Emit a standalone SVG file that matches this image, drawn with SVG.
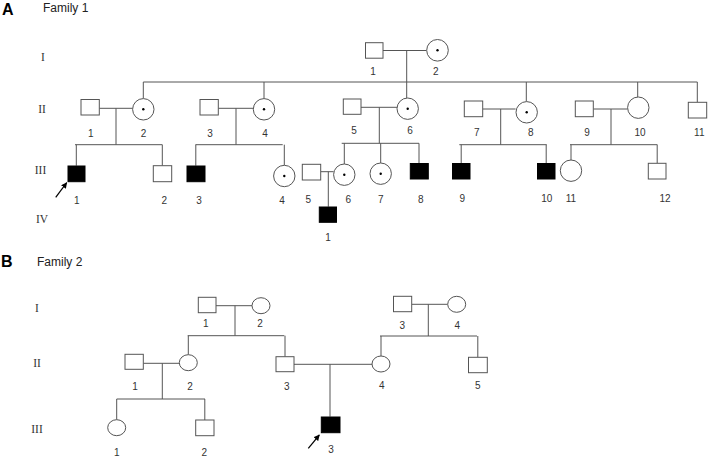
<svg xmlns="http://www.w3.org/2000/svg" width="708" height="458" viewBox="0 0 708 458">
<defs>
<style>
.ln{stroke:#555;stroke-width:1;fill:none}
.m{fill:#fff;stroke:#555;stroke-width:1}
.a{fill:#000;stroke:#000;stroke-width:1}
.f{fill:#fff;stroke:#555;stroke-width:1}
.d{fill:#000}
.lb{font-family:"Liberation Sans",Arial,sans-serif;font-size:10px;fill:#333;text-anchor:middle}
.gen{font-family:"Liberation Serif","Times New Roman",serif;font-size:11.5px;fill:#333;text-anchor:middle}
.ttl{font-family:"Liberation Sans",Arial,sans-serif;font-size:12px;fill:#222}
.big{font-family:"Liberation Sans",Arial,sans-serif;font-size:16px;font-weight:bold;fill:#000}
.arr{stroke:#000;stroke-width:1.2;fill:none}
</style>
<marker id="ah" viewBox="0 0 10 10" refX="9" refY="5" markerWidth="5" markerHeight="5" orient="auto">
<path d="M0,0 L10,5 L0,10 z" fill="#000"/>
</marker>
</defs>
<rect width="708" height="458" fill="#fff"/>

<!-- Titles -->
<text class="big" x="2" y="15">A</text>
<text class="ttl" x="43" y="12">Family 1</text>
<text class="big" x="1" y="267">B</text>
<text class="ttl" x="37" y="266">Family 2</text>

<!-- Generation labels -->
<g id="gen-labels">
<text class="gen" x="43" y="61">I</text>
<text class="gen" x="42" y="113">II</text>
<text class="gen" x="40.5" y="174">III</text>
<text class="gen" x="42" y="223">IV</text>
<text class="gen" x="37" y="312">I</text>
<text class="gen" x="37" y="367">II</text>
<text class="gen" x="37" y="433">III</text>
</g>

<!-- Connectors -->
<g id="connectors">
<!-- Family 1 gen I -->
<path class="ln" d="M383,50.5 H426.5 M406.7,50.5 V82 M143.3,82 H697.3"/>
<path class="ln" d="M143.3,82 V98.5 M264,82 V98.5 M406.7,82 V98 M526.3,82 V101.5 M637.7,82 V97 M697.3,82 V102.3"/>
<!-- II-1 x II-2 -->
<path class="ln" d="M99.3,108.3 H132.6 M116,108.3 V144.7 M75,144.7 H162.3 M76.3,144.7 V165.7 M162.3,144.7 V165.7"/>
<!-- II-3 x II-4 -->
<path class="ln" d="M218.3,108.3 H253.3 M236,108.3 V144.7 M195.5,144.7 H282.7 M195.8,144.7 V165.7 M284.3,144.7 V165.3"/>
<!-- II-5 x II-6 -->
<path class="ln" d="M361,107.3 H397 M379.3,107.3 V143.3 M341.7,143.3 H419 M344.3,143.3 V164 M380.7,143.3 V163 M419,143.3 V163.3"/>
<!-- III-5 x III-6 -->
<path class="ln" d="M320.7,171.7 H333.6 M328.3,171.7 V206.7"/>
<!-- II-7 x II-8 -->
<path class="ln" d="M482.7,109 H515.6 M500.7,109 V144.7 M459.3,144.7 H546.7 M461.2,144.7 V163.3 M546.2,144.7 V163.3"/>
<!-- II-9 x II-10 -->
<path class="ln" d="M593.3,109 H627.6 M611,109 V144.7 M570,144.7 H657.3 M571,144.7 V160 M657.2,144.7 V163.3"/>

<!-- Family 2 -->
<path class="ln" d="M216,305.7 H252 M235,305.7 V335.7 M187.7,335.7 H284.3 M188.3,335.7 V354.7 M285,335.7 V356.7"/>
<path class="ln" d="M411.7,304.3 H447.7 M428.3,304.3 V336 M380,336 H477 M381,336 V356 M477.8,336 V357.3"/>
<path class="ln" d="M143.3,363.3 H179.3 M162.3,363.3 V399 M116.7,399 H205 M116.7,399 V419.7 M204.8,399 V420"/>
<path class="ln" d="M294,364.3 H372 M330,364.3 V416.7"/>

<!-- Proband arrows -->
<line class="arr" x1="55.7" y1="197.3" x2="66.7" y2="182.7" marker-end="url(#ah)"/>
<line class="arr" x1="308.3" y1="448.3" x2="319.3" y2="435" marker-end="url(#ah)"/>
</g>

<!-- Family 1 nodes -->
<g id="f1-I-1"><rect class="m" x="365.5" y="42.7" width="17.5" height="15.5"/><text class="lb" x="373" y="75">1</text></g>
<g id="f1-I-2"><circle class="f" cx="437.5" cy="50.3" r="10.8"/><circle class="d" cx="437.5" cy="50.3" r="1.2"/><text class="lb" x="435.7" y="75">2</text></g>

<g id="f1-II-1"><rect class="m" x="81" y="99.5" width="18.3" height="15.5"/><text class="lb" x="90.7" y="137">1</text></g>
<g id="f1-II-2"><circle class="f" cx="143.3" cy="109.3" r="10.7"/><circle class="d" cx="143.3" cy="109.3" r="1.2"/><text class="lb" x="143.6" y="137">2</text></g>
<g id="f1-II-3"><rect class="m" x="200" y="99.5" width="18.3" height="15.5"/><text class="lb" x="210" y="137">3</text></g>
<g id="f1-II-4"><circle class="f" cx="264" cy="109.3" r="10.7"/><circle class="d" cx="264" cy="109.3" r="1.2"/><text class="lb" x="265" y="137">4</text></g>
<g id="f1-II-5"><rect class="m" x="343.3" y="99" width="17.7" height="15.3"/><text class="lb" x="354" y="134">5</text></g>
<g id="f1-II-6"><circle class="f" cx="407.7" cy="108.7" r="10.7"/><circle class="d" cx="407.7" cy="108.7" r="1.2"/><text class="lb" x="410" y="134">6</text></g>
<g id="f1-II-7"><rect class="m" x="464.3" y="101" width="18.4" height="15.7"/><text class="lb" x="476.7" y="135.5">7</text></g>
<g id="f1-II-8"><circle class="f" cx="526.7" cy="112.3" r="10.7"/><circle class="d" cx="526.7" cy="112.3" r="1.2"/><text class="lb" x="530.7" y="135.5">8</text></g>
<g id="f1-II-9"><rect class="m" x="575.3" y="101" width="18" height="15.7"/><text class="lb" x="587" y="135.5">9</text></g>
<g id="f1-II-10"><circle class="f" cx="638.3" cy="107.7" r="10.7"/><text class="lb" x="640" y="136">10</text></g>
<g id="f1-II-11"><rect class="m" x="688.3" y="102.3" width="18.4" height="15.7"/><text class="lb" x="699.3" y="136">11</text></g>

<g id="f1-III-1"><rect class="a" x="68" y="166" width="17" height="15.7"/><text class="lb" x="76.7" y="204">1</text></g>
<g id="f1-III-2"><rect class="m" x="153.3" y="165.7" width="18.4" height="16"/><text class="lb" x="164.3" y="204">2</text></g>
<g id="f1-III-3"><rect class="a" x="187" y="166" width="18" height="15.7"/><text class="lb" x="199" y="204">3</text></g>
<g id="f1-III-4"><circle class="f" cx="284.3" cy="176" r="10.7"/><circle class="d" cx="284.3" cy="176" r="1.2"/><text class="lb" x="282" y="204">4</text></g>
<g id="f1-III-5"><rect class="m" x="302.3" y="164.3" width="18.4" height="15.7"/><text class="lb" x="308.3" y="203">5</text></g>
<g id="f1-III-6"><circle class="f" cx="344.3" cy="174.7" r="10.7"/><circle class="d" cx="344.3" cy="174.7" r="1.2"/><text class="lb" x="348.3" y="203">6</text></g>
<g id="f1-III-7"><circle class="f" cx="380.7" cy="173.7" r="10.7"/><circle class="d" cx="380.7" cy="173.7" r="1.2"/><text class="lb" x="380.7" y="203">7</text></g>
<g id="f1-III-8"><rect class="a" x="410.3" y="163.5" width="18" height="15.5"/><text class="lb" x="420.7" y="203">8</text></g>
<g id="f1-III-9"><rect class="a" x="452.5" y="163.5" width="17.5" height="15.5"/><text class="lb" x="462.3" y="202">9</text></g>
<g id="f1-III-10"><rect class="a" x="537.5" y="163.5" width="17.5" height="15.5"/><text class="lb" x="546.7" y="201.5">10</text></g>
<g id="f1-III-11"><circle class="f" cx="571" cy="170.7" r="10.7"/><text class="lb" x="571" y="202">11</text></g>
<g id="f1-III-12"><rect class="m" x="648.3" y="163.3" width="17.7" height="15.7"/><text class="lb" x="665" y="202">12</text></g>

<g id="f1-IV-1"><rect class="a" x="319.3" y="207" width="17.2" height="15.3"/><text class="lb" x="328" y="241">1</text></g>

<!-- Family 2 nodes -->
<g id="f2-I-1"><rect class="m" x="198.3" y="297.3" width="17.7" height="15.4"/><text class="lb" x="205.7" y="326.5">1</text></g>
<g id="f2-I-2"><ellipse class="f" cx="261" cy="305.7" rx="9" ry="8"/><text class="lb" x="260" y="326.5">2</text></g>
<g id="f2-I-3"><rect class="m" x="393.5" y="296.3" width="18.2" height="15.4"/><text class="lb" x="402.3" y="328.5">3</text></g>
<g id="f2-I-4"><ellipse class="f" cx="456.7" cy="304.3" rx="9" ry="8"/><text class="lb" x="457.3" y="328.5">4</text></g>

<g id="f2-II-1"><rect class="m" x="125" y="354.3" width="18.3" height="15"/><text class="lb" x="135" y="389.5">1</text></g>
<g id="f2-II-2"><ellipse class="f" cx="188.3" cy="362.7" rx="9" ry="8"/><text class="lb" x="190" y="389.5">2</text></g>
<g id="f2-II-3"><rect class="m" x="276" y="356.7" width="18" height="15"/><text class="lb" x="286.7" y="389.5">3</text></g>
<g id="f2-II-4"><ellipse class="f" cx="381" cy="364" rx="9" ry="8"/><text class="lb" x="381.7" y="389">4</text></g>
<g id="f2-II-5"><rect class="m" x="468.5" y="357.3" width="18.8" height="15.4"/><text class="lb" x="477.7" y="389">5</text></g>

<g id="f2-III-1"><ellipse class="f" cx="116.7" cy="427.7" rx="9" ry="8"/><text class="lb" x="116.7" y="456">1</text></g>
<g id="f2-III-2"><rect class="m" x="195.7" y="420" width="18.3" height="15.7"/><text class="lb" x="204.3" y="456">2</text></g>
<g id="f2-III-3"><rect class="a" x="321.3" y="417" width="18.7" height="15.7"/><text class="lb" x="331" y="453">3</text></g>
</svg>
